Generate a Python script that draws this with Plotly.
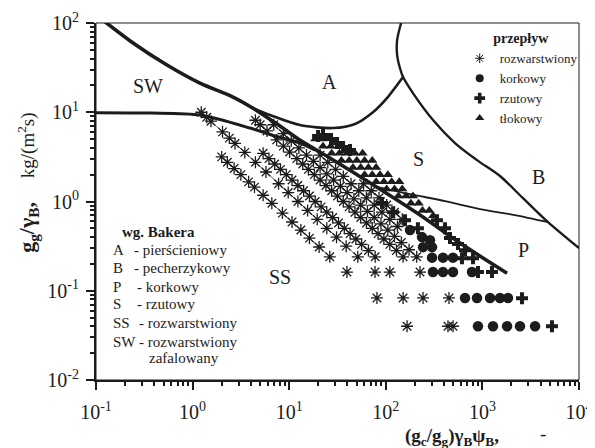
import plotly.graph_objects as go

# ---------------- data ----------------
# asterisk series - stratified flow (dense diagonals, thin connecting line)
diag1_x = [2.00, 2.29, 2.69, 3.16, 3.80, 4.37, 5.37, 6.61, 8.51, 10.7, 13.2, 16.2, 20.4, 26.3]
diag1_y = [3.16, 2.75, 2.34, 2.00, 1.66, 1.45, 1.175, 0.955, 0.741, 0.589, 0.479, 0.389, 0.309, 0.240]
diag2_x = [1.23, 1.40, 1.55, 2.04, 2.40, 2.75, 3.47, 4.47, 5.75, 7.76, 9.77, 12.3, 15.5, 19.5, 24.5, 30.9, 38.9, 51.3]
diag2_y = [10.0, 8.79, 7.94, 6.03, 5.13, 4.47, 3.55, 2.75, 2.14, 1.58, 1.26, 1.0, 0.794, 0.631, 0.501, 0.398, 0.316, 0.240]
diag3_x = [5.37, 6.17, 7.08, 8.13, 9.33, 10.7, 12.3, 14.1, 16.2, 18.6, 21.4, 24.5, 28.2, 32.4, 37.2, 42.7, 49.0, 56.2, 66.1, 77.6]
diag3_y = [3.47, 3.02, 2.63, 2.29, 2.00, 1.74, 1.51, 1.32, 1.15, 1.00, 0.871, 0.759, 0.661, 0.575, 0.501, 0.437, 0.380, 0.331, 0.282, 0.240]
diag4_x = [4.47, 5.01, 5.89, 7.41, 8.71, 10.1, 12.0, 13.8, 15.8, 18.2, 20.9, 24.0, 27.5, 31.6, 36.3, 41.7, 47.9, 55.0, 63.1, 72.4, 83.2, 95.5, 110, 129, 151]
diag4_y = [8.13, 7.24, 6.17, 4.90, 4.17, 3.58, 3.02, 2.63, 2.29, 2.00, 1.74, 1.51, 1.32, 1.15, 1.00, 0.871, 0.759, 0.661, 0.575, 0.501, 0.437, 0.380, 0.331, 0.282, 0.240]
diag5_x = [6.92, 8.71, 10.5, 12.6, 15.1, 17.8, 20.9, 24.5, 28.8, 33.9, 39.8, 46.8, 55.0, 64.6, 75.9, 89.1, 105, 123, 145, 174, 209]
diag5_y = [7.24, 5.75, 4.79, 3.98, 3.31, 2.82, 2.40, 2.04, 1.74, 1.48, 1.26, 1.07, 0.912, 0.776, 0.661, 0.562, 0.479, 0.407, 0.347, 0.288, 0.240]
diag6_x = [20.9, 25.1, 30.2, 36.3, 43.7, 52.5, 63.1, 75.9, 91.2, 110, 132]
diag6_y = [3.31, 2.75, 2.29, 1.91, 1.58, 1.32, 1.10, 0.912, 0.759, 0.631, 0.525]
diag7_x = [58.9, 70.8, 85.1, 102, 123, 148]
diag7_y = [1.58, 1.32, 1.10, 0.912, 0.759, 0.631]

# isolated asterisks in the low rows
rows_ast_x = [39.6, 77.3, 110, 226, 81, 151, 243, 451, 166, 440, 497]
rows_ast_y = [0.162, 0.162, 0.162, 0.162, 0.083, 0.083, 0.083, 0.083, 0.040, 0.040, 0.040]

# korkowy (dots)
dot_x = [178, 237, 287, 243, 301, 301, 391, 496, 308, 391, 496, 780, 661, 879, 1200, 1520, 1840, 900, 1288, 1800, 2450, 3510]
dot_y = [0.478, 0.399, 0.369, 0.308, 0.308, 0.235, 0.235, 0.235, 0.162, 0.162, 0.162, 0.162,
         0.083, 0.083, 0.083, 0.083, 0.083, 0.040, 0.040, 0.040, 0.040, 0.040]

# rzutowy (plus)
plus_x = [19.9, 22.4, 27.1, 31.3, 36.1, 42.6, 91.4, 119, 158, 215, 339, 410, 462, 559, 661, 615, 800, 900, 1256, 2570, 5250]
plus_y = [5.41, 5.55, 5.01, 4.52, 4.07, 3.77, 0.959, 0.760, 0.618, 0.503, 0.618, 0.503, 0.389, 0.333, 0.285,
          0.232, 0.232, 0.162, 0.162, 0.0826, 0.040]

# tlokowy (triangles)
tri_x = [18.6, 21.9, 22.4, 26.9, 32.4, 27.5, 33.1, 39.8, 47.9, 57.5, 34.7, 41.7, 50.1, 60.3, 72.4,
         45.7, 55.0, 66.1, 79.4, 60.3, 72.4, 87.1, 105, 79.4, 95.5, 115, 138, 102, 123, 148,
         135, 162, 191, 182, 219, 240, 282, 309]
tri_y = [5.01, 5.01, 4.17, 4.17, 4.17, 3.47, 3.47, 3.47, 3.47, 3.47, 2.88, 2.88, 2.88, 2.88, 2.88,
         2.40, 2.40, 2.40, 2.40, 2.00, 2.00, 2.00, 2.00, 1.66, 1.66, 1.66, 1.66, 1.38, 1.38, 1.38,
         1.15, 1.15, 1.15, 0.955, 0.955, 0.794, 0.794, 0.692]

# Baker map boundaries
thick_x = [0.110, 0.242, 0.543, 1.19, 2.62, 4.22, 7.48, 12.9, 26.4, 77.3, 226, 586, 1800]
thick_y = [114, 59.7, 33.8, 21.2, 14.8, 11.1, 7.38, 4.88, 3.07, 1.49, 0.705, 0.342, 0.157]
lower_x = [0.1, 0.362, 1.19, 3.93, 7.13, 12.9, 18.5]
lower_y = [9.9, 9.8, 9.31, 6.65, 5.41, 4.52, 3.77]
bowl_x = [4.22, 6.32, 12.9, 28.4, 48.0, 73.6, 105, 131, 151]
bowl_y = [11.1, 9.31, 7.19, 6.65, 7.38, 10.0, 14.8, 20.2, 24.8]
b_x = [144, 131, 131, 140, 151, 191, 308, 520, 879, 1520, 2630, 4780, 10000]
b_y = [100, 64.4, 43.7, 31.3, 24.8, 16.4, 8.18, 4.52, 2.91, 1.93, 1.09, 0.587, 0.30]
sp_x = [83.0, 178, 410, 944, 2170, 4780]
sp_y = [1.45, 1.21, 1.01, 0.822, 0.705, 0.587]

legend_names = ["rozwarstwiony", "korkowy", "rzutowy", "tłokowy"]
x_tickvals = [0.1, 1, 10, 100, 1000, 10000]
x_ticktext = ["10<sup>-1</sup>", "10<sup>0</sup>", "10<sup>1</sup>", "10<sup>2</sup>", "10<sup>3</sup>", "10<sup>4</sup>"]
y_tickvals = [0.01, 0.1, 1, 10, 100]
y_ticktext = ["10<sup>-2</sup>", "10<sup>-1</sup>", "10<sup>0</sup>", "10<sup>1</sup>", "10<sup>2</sup>"]
baker_codes = ["A", "B", "P", "S", "SS", "SW", ""]
baker_desc = ["- pierścieniowy", "- pecherzykowy", "- korkowy", "- rzutowy", "- rozwarstwiony", "- rozwarstwiony", "zafalowany"]

# ---------------- figure ----------------
FONT = "Liberation Serif"
INK = "#1c1c1c"
fig = go.Figure()

ast_marker = dict(symbol="asterisk-open", size=10, color=INK, line=dict(width=1.3, color=INK))
for dx, dy in [(diag1_x, diag1_y), (diag2_x, diag2_y), (diag3_x, diag3_y), (diag4_x, diag4_y),
               (diag5_x, diag5_y), (diag6_x, diag6_y), (diag7_x, diag7_y)]:
    fig.add_trace(go.Scatter(x=dx, y=dy, mode="lines+markers", showlegend=False,
                             line=dict(width=0.8, color="#333"), marker=ast_marker, hoverinfo="skip"))
fig.add_trace(go.Scatter(x=rows_ast_x, y=rows_ast_y, mode="markers", showlegend=False,
                         marker=ast_marker, hoverinfo="skip"))
fig.add_trace(go.Scatter(x=tri_x, y=tri_y, mode="markers", showlegend=False,
                         marker=dict(symbol="triangle-up", size=9, color=INK), hoverinfo="skip"))
fig.add_trace(go.Scatter(x=dot_x, y=dot_y, mode="markers", showlegend=False,
                         marker=dict(symbol="circle", size=10.5, color=INK), hoverinfo="skip"))
fig.add_trace(go.Scatter(x=plus_x, y=plus_y, mode="markers", showlegend=False,
                         marker=dict(symbol="cross", size=10, color=INK), hoverinfo="skip"))

# boundaries
for bx, by, w in [(thick_x, thick_y, 3.6), (lower_x, lower_y, 3.0), (bowl_x, bowl_y, 2.6),
                  (b_x, b_y, 2.4), (sp_x, sp_y, 1.8)]:
    fig.add_trace(go.Scatter(x=bx, y=by, mode="lines", showlegend=False, hoverinfo="skip",
                             line=dict(width=w, color=INK, shape="spline", smoothing=0.8)))

# legend entries
leg_markers = [dict(symbol="asterisk-open", size=8, line=dict(width=1, color=INK), color=INK),
               dict(symbol="circle", size=8, color=INK),
               dict(symbol="cross", size=9, color=INK),
               dict(symbol="triangle-up", size=8, color=INK)]
for name, mk in zip(legend_names, leg_markers):
    fig.add_trace(go.Scatter(x=[None], y=[None], mode="markers", name=name, marker=mk))

# region labels
regions = [("SW", 0.108, 0.824), ("A", 0.484, 0.835), ("S", 0.667, 0.619),
           ("B", 0.917, 0.569), ("P", 0.886, 0.364), ("SS", 0.381, 0.289)]
for t, px, py in regions:
    fig.add_annotation(text=t, x=px, y=py, xref="paper", yref="paper", showarrow=False,
                       font=dict(family=FONT, size=20, color=INK), xanchor="center", yanchor="middle")

# Baker key block
fig.add_annotation(text="<b>wg. Bakera</b>", x=0.0497, y=0.4146, xref="paper", yref="paper",
                   showarrow=False, xanchor="left", yanchor="middle",
                   font=dict(family=FONT, size=15, color=INK))
ys = [0.364, 0.3137, 0.2605, 0.2129, 0.1597, 0.1064, 0.0616]
dash_x = [0.0745, 0.0745, 0.0807, 0.0807, 0.0849, 0.0849, 0.1056]
for code, desc, yy, dxp in zip(baker_codes, baker_desc, ys, dash_x):
    if code:
        fig.add_annotation(text=code, x=0.031, y=yy, xref="paper", yref="paper", showarrow=False,
                           xanchor="left", yanchor="middle", font=dict(family=FONT, size=15, color=INK))
    fig.add_annotation(text=desc, x=dxp, y=yy, xref="paper", yref="paper", showarrow=False,
                       xanchor="left", yanchor="middle", font=dict(family=FONT, size=15, color=INK))

# axis titles
fig.add_annotation(text="<b><span style='font-size:22px'>g<sub>g</sub>/γ<sub>B</sub>,</span></b>     kg/(m<sup>2</sup>s)",
                   x=-0.141, y=0.552, xref="paper", yref="paper", showarrow=False, textangle=-90,
                   xanchor="center", yanchor="middle", font=dict(family=FONT, size=19, color=INK))
fig.add_annotation(text="<b>(g<sub>c</sub>/g<sub>g</sub>)γ<sub>B</sub>ψ<sub>B</sub>,</b>",
                   x=0.6356, y=-0.160, xref="paper", yref="paper", showarrow=False,
                   xanchor="left", yanchor="middle", font=dict(family=FONT, size=19, color=INK))
fig.add_annotation(text="-", x=0.9255, y=-0.150, xref="paper", yref="paper", showarrow=False,
                   xanchor="center", yanchor="middle", font=dict(family=FONT, size=19, color=INK))

# thin frame (top/right)
fig.add_shape(type="rect", xref="paper", yref="paper", x0=0, y0=0, x1=1, y1=1,
              line=dict(width=1, color=INK), layer="above")

minor_x = [k * 10 ** e for e in range(-1, 4) for k in range(2, 10)]
minor_y = [k * 10 ** e for e in range(-2, 2) for k in range(2, 10)]

fig.update_xaxes(type="log", range=[-1, 4], showgrid=False, zeroline=False, automargin=False,
                 showline=True, linewidth=2, linecolor=INK,
                 ticks="outside", ticklen=8, tickwidth=2, tickcolor=INK, ticklabelstandoff=5,
                 tickvals=x_tickvals, ticktext=x_ticktext,
                 tickfont=dict(family=FONT, size=20, color=INK),
                 minor=dict(tickvals=minor_x, ticks="outside", ticklen=4, tickwidth=1.5, tickcolor=INK))
fig.update_yaxes(type="log", range=[-2, 2], showgrid=False, zeroline=False, automargin=False,
                 showline=True, linewidth=2, linecolor=INK,
                 ticks="outside", ticklen=8, tickwidth=2, tickcolor=INK, ticklabelstandoff=3,
                 tickvals=y_tickvals, ticktext=y_ticktext,
                 tickfont=dict(family=FONT, size=20, color=INK),
                 minor=dict(tickvals=minor_y, ticks="outside", ticklen=4, tickwidth=1.5, tickcolor=INK))

# page body adds an 8px offset; margins compensate so the plot lands where the reference has it
fig.update_layout(
    width=595, height=448, autosize=False,
    margin=dict(l=88, r=24, t=15, b=76, autoexpand=False),
    paper_bgcolor="white", plot_bgcolor="white",
    font=dict(family=FONT, color=INK),
    legend=dict(x=0.753, y=0.994, xanchor="left", yanchor="top",
                bgcolor="rgba(0,0,0,0)", borderwidth=0,
                font=dict(family=FONT, size=13, color=INK),
                title=dict(text="<b>przepływ</b>", side="top center",
                           font=dict(family=FONT, size=14, color=INK))),
)

fig.write_html("out.html")
